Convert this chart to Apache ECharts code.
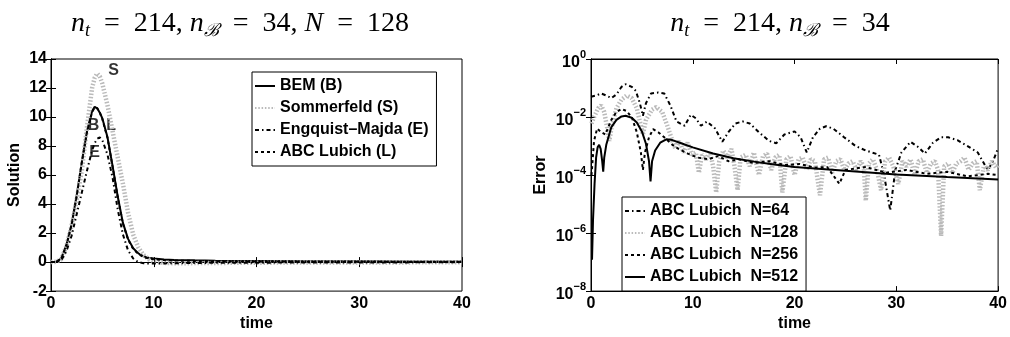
<!DOCTYPE html>
<html><head><meta charset="utf-8">
<script src="https://cdn.jsdelivr.net/npm/echarts@6/dist/echarts.min.js"></script>
<style>html,body{margin:0;padding:0;background:#fff}#c{width:1010px;height:337px}</style>
</head><body><div id="c"></div>
<script>
// ---------- Left panel data (solution vs time) ----------
const leftTime = [0,0.5,1,1.5,2,2.5,3,3.5,4,4.25,4.5,4.75,5,5.5,6,6.5,7,7.5,8,8.5,9,9.5,10,11,12,14,16,20,25,30,35,40];
const bemValues = [0,0.02,0.25,1.2,2.6,4.6,6.9,9.0,10.4,10.7,10.6,10.3,9.9,8.6,6.6,4.5,2.7,1.6,0.95,0.6,0.4,0.3,0.24,0.18,0.15,0.12,0.1,0.08,0.06,0.05,0.04,0.04];
const sommerfeldValues = [0,0.02,0.2,1.1,2.5,4.3,6.3,9.3,12.0,12.7,13.0,12.8,12.3,10.8,9.0,7.2,5.4,3.4,1.9,1.0,0.5,0.2,0.05,-0.05,-0.08,-0.07,-0.06,-0.04,-0.03,-0.02,-0.02,-0.01];
const engquistValues = [0,0.01,0.12,0.75,1.8,3.3,4.8,6.3,7.7,8.2,8.5,8.6,8.4,7.4,5.8,3.6,1.9,0.8,0.25,0.0,-0.08,-0.1,-0.1,-0.09,-0.08,-0.06,-0.05,-0.04,-0.03,-0.02,-0.02,-0.01];
const lubichValues = [0,0.02,0.24,1.15,2.55,4.55,6.85,8.95,10.35,10.65,10.6,10.3,9.85,8.55,6.55,4.45,2.65,1.55,0.9,0.55,0.35,0.25,0.2,0.14,0.11,0.08,0.06,0.04,0.03,0.02,0.01,0.01];
const leftNames = ['BEM (B)','Sommerfeld (S)','Engquist\u2013Majda (E)','ABC Lubich (L)'];
const annoText = ['S','B','L','E'];
const annoTime = [6.1,4.14,5.86,4.23];
const annoValue = [13.2,9.43,9.43,7.54];

// ---------- Right panel data (error vs time) ----------
const n64Time = [0,0.5,1.0,1.5,2.0,2.5,3.0,3.4,4.0,4.4,4.8,5.1,5.4,5.9,6.6,7.2,7.8,8.4,9.2,9.8,10.3,10.8,11.4,12.2,12.9,13.5,14.2,14.9,15.6,16.5,17.5,18.2,19.0,20.0,20.6,21.2,21.8,22.5,23.1,23.8,24.8,26.0,27.0,27.6,28.3,28.8,29.4,29.9,30.5,31.4,32.2,32.8,33.6,34.4,35.1,36,37.0,38.0,38.7,39.0,39.5,40];
const n64Error = [5e-2,5.5e-2,6.5e-2,5.5e-2,4.5e-2,6e-2,1.1e-1,1.35e-1,1.1e-1,8e-2,3e-2,1.1e-2,3e-2,6.5e-2,7e-2,6.5e-2,2.5e-2,7e-3,5e-3,1.2e-2,9e-3,5e-3,7e-3,4e-3,1.4e-3,3e-3,6e-3,7e-3,6e-3,3e-3,1.5e-3,1.25e-3,2.5e-3,3.2e-3,2e-3,6e-4,2e-3,4e-3,4.8e-3,4e-3,2.1e-3,1e-3,7e-4,6e-4,5e-4,1e-4,6e-6,1.5e-4,6e-4,1.4e-3,9e-4,5.5e-4,1.3e-3,2e-3,2e-3,1.6e-3,1e-3,6e-4,2.2e-4,1.5e-4,3e-4,8.5e-4];
const n128Time = [0.05,0.3,0.7,1.0,1.3,1.6,1.8,2.0,2.5,3.0,3.5,4.0,4.5,4.9,5.1,5.4,6.0,6.4,7.0,7.5,8.0,8.3,8.7,9.1,9.5,9.9,10.3,10.6,10.9,11.3,11.7,12.0,12.3,12.6,13.0,13.4,13.8,14.1,14.4,14.7,15.2,15.6,16.0,16.5,16.9,17.3,17.7,18.1,18.5,18.8,19.2,19.6,20.0,20.4,20.8,21.2,21.6,22.0,22.5,22.9,23.3,23.7,24.1,24.5,24.9,25.3,25.7,26.1,26.5,26.8,27.0,27.3,27.7,28.1,28.5,28.9,29.3,29.7,30.2,30.6,31.0,31.4,31.8,32.2,32.6,33.0,33.4,33.8,34.1,34.4,34.7,35.1,35.5,35.9,36.3,36.7,37.1,37.5,37.9,38.2,38.6,39.0,39.4,39.8,40];
const n128Error = [6e-3,1e-2,2e-2,2.5e-2,1.5e-2,4e-3,1.5e-3,4e-3,2e-2,4e-2,5.5e-2,4.5e-2,2e-2,5e-3,2.5e-3,8e-3,1.8e-2,2.2e-2,1.5e-2,5e-3,1.5e-3,8e-4,1.5e-3,6e-4,1.3e-3,5e-4,6e-4,1.2e-4,5e-4,3.5e-4,6e-4,2e-4,2.5e-5,3e-4,7e-4,4e-4,8e-4,2e-4,3e-5,4e-4,5e-4,2e-4,6e-4,1e-4,4.5e-4,5.5e-4,1.5e-4,4e-4,5e-4,2.5e-5,3.5e-4,4.5e-4,1e-4,3.5e-4,4e-4,1.5e-4,3.5e-4,3e-4,2e-5,3.5e-4,4e-4,1.2e-4,3e-4,3.5e-4,1.5e-4,2.5e-4,3e-4,1.5e-4,3e-4,2e-4,1.3e-5,2.5e-4,3.5e-4,1.5e-4,3e-5,3e-4,4e-4,2e-4,5e-5,3e-4,2e-4,3.5e-4,1e-4,3e-4,3.5e-4,1.2e-4,2.5e-4,3e-4,1.5e-4,8e-7,2e-4,2.5e-4,1.2e-4,2.5e-4,3e-4,4e-4,1.5e-4,2.5e-4,3e-4,3e-5,2e-4,1.5e-4,3e-4,1.8e-4,2.2e-4];
const n256Time = [0.05,0.3,0.6,1.0,1.4,2.0,2.5,3.0,3.5,4.0,4.5,4.9,5.1,5.3,5.7,6.1,6.6,7.2,8.0,8.6,9.5,10.5,11.5,12.5,13.5,14.5,16,17.5,19,20.5,22,23.2,24.4,25,27,29,31,33,35,37,39,40];
const n256Error = [1e-4,1.5e-3,4e-3,3e-3,2.5e-3,8e-3,1.5e-2,1.9e-2,1.6e-2,1e-2,3e-3,6e-4,1.5e-4,6e-4,2e-3,3.8e-3,3e-3,2e-3,1.1e-3,8e-4,5.5e-4,4e-4,3.5e-4,4.5e-4,3e-4,3.5e-4,2.6e-4,3e-4,2.2e-4,2.4e-4,1.8e-4,1.9e-4,5e-5,1.5e-4,1.9e-4,1.2e-4,1.5e-4,1.1e-4,1.3e-4,9e-5,1.1e-4,1e-4];
const n512Time = [0.1,0.2,0.35,0.5,0.65,0.8,0.95,1.1,1.2,1.3,1.5,2.0,2.5,3.0,3.4,4.0,4.5,5.0,5.4,5.7,5.85,6.0,6.3,6.8,7.4,8.0,9.0,10,12,14,16,18,20,25,30,35,40];
const n512Error = [1.2e-7,3e-6,5e-5,4e-4,9e-4,1.1e-3,8e-4,3e-4,1.3e-4,4e-4,1.1e-3,4.5e-3,8e-3,1.05e-2,1.1e-2,9.5e-3,6.5e-3,3.2e-3,1.2e-3,3e-4,6e-5,3e-4,7e-4,1.3e-3,1.7e-3,1.6e-3,1.2e-3,9e-4,5.5e-4,3.8e-4,2.9e-4,2.3e-4,1.9e-4,1.4e-4,1.05e-4,8.5e-5,7e-5];
const rightNames = ['ABC Lubich  N=64','ABC Lubich  N=128','ABC Lubich  N=256','ABC Lubich  N=512'];

const xTicks = [0,10,20,30,40];

function zip(a,b){return a.map((v,i)=>[v,b[i]]);}

const FONT = 'Liberation Sans';
const GRAY = '#bababa';
const DASHDOT = [4,3,1.5,3];
const DASH = [3,3];
const DOT = [1.5,1.8];
const EN = '\u2002';

function xAx(grid, pos, showLabel){
  return {type:'value', gridIndex:grid, position:pos, min:xTicks[0], max:xTicks[xTicks.length-1], interval:xTicks[1]-xTicks[0],
    name: showLabel ? 'time' : '', nameLocation:'middle', nameGap:19,
    nameTextStyle:{color:'#000', fontFamily:FONT, fontWeight:'bold', fontSize:16},
    axisLine:{show:true, lineStyle:{color:'#000', width:1}},
    axisTick:{show:true, inside:true, length:5, lineStyle:{color:'#000'}},
    axisLabel:{show:showLabel, color:'#000', fontFamily:FONT, fontWeight:'bold', fontSize:16, margin:4},
    splitLine:{show:false}};
}
function yLin(grid,pos,showLabel){
  return {type:'value', gridIndex:grid, position:pos, min:-2, max:14, interval:2,
    name: showLabel ? 'Solution' : '', nameLocation:'middle', nameGap:28, nameRotate:90,
    nameTextStyle:{color:'#000', fontFamily:FONT, fontWeight:'bold', fontSize:16},
    axisLine:{show:true, lineStyle:{color:'#000', width:1}},
    axisTick:{show:true, inside:true, length:5, lineStyle:{color:'#000'}},
    axisLabel:{show:showLabel, color:'#000', fontFamily:FONT, fontWeight:'bold', fontSize:16, margin:4},
    splitLine:{show:false}};
}
function yLog(grid,pos,showLabel){
  return {type:'log', logBase:10, gridIndex:grid, position:pos, min:1e-8, max:1, splitNumber:5, interval:2,
    name: showLabel ? 'Error' : '', nameLocation:'middle', nameGap:42, nameRotate:90,
    nameTextStyle:{color:'#000', fontFamily:FONT, fontWeight:'bold', fontSize:16},
    axisLine:{show:true, lineStyle:{color:'#000', width:1}},
    axisTick:{show:true, inside:true, length:5, lineStyle:{color:'#000'}},
    minorTick:{show:false},
    axisLabel:{show:showLabel, margin:5,
      formatter:function(v){const e=Math.round(Math.log10(v)); if(e%2!==0) return ''; return '{b|10}{s|'+(e<0?'\u2212'+(-e):e)+'}';},
      rich:{b:{color:'#000', fontFamily:FONT, fontWeight:'bold', fontSize:16, padding:[7,0,0,0]},
            s:{color:'#000', fontFamily:FONT, fontWeight:'bold', fontSize:11, padding:[0,0,9,0]}}},
    splitLine:{show:false}};
}
function lineSeries(name, xi, yi, data, color, width, type){
  return {name:name, type:'line', xAxisIndex:xi, yAxisIndex:yi, data:data, symbol:'none', showSymbol:false,
    lineStyle:{color:color, width:width, type:type}, itemStyle:{color:color}, silent:true};
}
function legendCfg(names, left, top){
  return {data:names, orient:'vertical', left:left, top:top, itemWidth:20, itemHeight:12, itemGap:6,
    selectedMode:false, backgroundColor:'#fff', borderColor:'#000', borderWidth:1, padding:[6,8,6,2],
    itemStyle:{opacity:0},
    textStyle:{color:'#000', fontFamily:FONT, fontWeight:'bold', fontSize:16}};
}

const titleRich = {
  i:{fontFamily:'Liberation Serif', fontStyle:'italic', fontWeight:'normal', fontSize:28, color:'#000'},
  r:{fontFamily:'Liberation Serif', fontWeight:'normal', fontSize:28, color:'#000'},
  s:{fontFamily:'Liberation Serif', fontStyle:'italic', fontWeight:'normal', fontSize:18, color:'#000', padding:[15,0,0,0]}
};

const option = {
  animation:false,
  backgroundColor:'#fff',
  title:[
    {text:'{i|n}{s|t}{r|'+EN+'='+EN+'214, }{i|n}{s|\u212C}{r|'+EN+'='+EN+'34, }{i|N}{r|'+EN+'='+EN+'128}', left:235, top:2, textAlign:'center', textStyle:{fontWeight:'normal', rich:titleRich}},
    {text:'{i|n}{s|t}{r|'+EN+'='+EN+'214, }{i|n}{s|\u212C}{r|'+EN+'='+EN+'34}', left:775, top:2, textAlign:'center', textStyle:{fontWeight:'normal', rich:titleRich}}
  ],
  grid:[
    {left:51, right:548, top:59, bottom:32, show:true, borderColor:'#000', borderWidth:1, backgroundColor:'transparent'},
    {left:591, right:10, top:59, bottom:32, show:true, borderColor:'#000', borderWidth:1, backgroundColor:'transparent'}
  ],
  xAxis:[xAx(0,'bottom',true), xAx(0,'top',false), xAx(1,'bottom',true), xAx(1,'top',false)],
  yAxis:[yLin(0,'left',true), yLin(0,'right',false), yLog(1,'left',true), yLog(1,'right',false)],
  legend:[legendCfg(leftNames, 252, 72), legendCfg(rightNames, 622, 197)],
  series:[
    lineSeries(leftNames[0],0,0,zip(leftTime,bemValues),'#000',2,'solid'),
    lineSeries(leftNames[1],0,0,zip(leftTime,sommerfeldValues),GRAY,4.5,DOT),
    lineSeries(leftNames[2],0,0,zip(leftTime,engquistValues),'#000',2,DASHDOT),
    lineSeries(leftNames[3],0,0,zip(leftTime,lubichValues),'#000',2,DASH),
    {type:'scatter', xAxisIndex:0, yAxisIndex:0, symbolSize:1, itemStyle:{color:'rgba(0,0,0,0)'}, silent:true,
     data:annoText.map((t,i)=>({name:t, value:[annoTime[i], annoValue[i]]})),
     label:{show:true, position:'inside', formatter:'{b}', color:'#000', fontFamily:FONT, fontWeight:'bold', fontSize:16}},
    lineSeries(rightNames[0],2,2,zip(n64Time,n64Error),'#000',2,DASHDOT),
    lineSeries(rightNames[1],2,2,zip(n128Time,n128Error),GRAY,4.5,DOT),
    lineSeries(rightNames[2],2,2,zip(n256Time,n256Error),'#000',2,DASH),
    lineSeries(rightNames[3],2,2,zip(n512Time,n512Error),'#000',2,'solid')
  ]
};
const chart = echarts.init(document.getElementById('c'), null, {renderer:'canvas'});
chart.setOption(option);
</script></body></html>
